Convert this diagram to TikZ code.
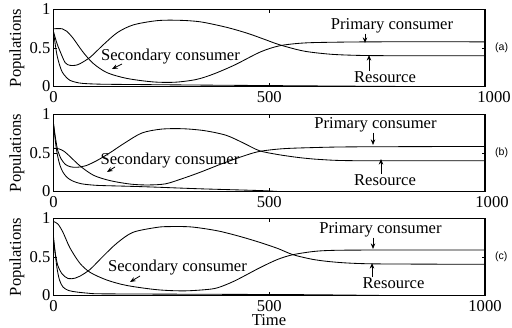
\documentclass[tikz,border=0pt]{standalone}
\usepackage{fontspec}
\setmainfont{Liberation Serif}
\newfontfamily\tagfont{Liberation Sans}
\usepackage{tikz}
\usetikzlibrary{arrows.meta, positioning}

\tikzset{
    % Panel frames and ticks
    frame line/.style={line width=0.8pt},
    tick line/.style={line width=0.6pt},
    % Population curves
    pop curve/.style={line width=0.6pt, smooth, tension=0.5},
    % Texts
    tick label/.style={font=\fontsize{11.8}{14}\selectfont, inner sep=2pt},
    curve label/.style={font=\fontsize{11.8}{14}\selectfont, inner sep=0pt},
    panel tag/.style={font=\tagfont\fontsize{7.5}{9}\selectfont, anchor=west, inner sep=0pt},
    % Label arrows
    label arrow/.style={-{Stealth[length=4pt, width=3.2pt]}, line width=0.6pt}
}

\begin{document}
\begin{tikzpicture}[x=0.025cm, y=0.025cm]

    \useasboundingbox (0,0) rectangle (512,328);

    % ======== FRAMES, TICKS, AXIS LABELS ========
    \foreach \yb/\tag/\dx in {241.5/a/9, 136.5/b/7, 32.5/c/0} {
        \node[tick label, rotate=90] (ylab-\tag) at (17, \yb+38.5) {Populations};
        \begin{scope}[shift={(53.5,\yb)}, xscale=0.4315, yscale=77]
            \draw[frame line] (0,0) rectangle (1000,1);
            \draw[tick line] (500,0) -- (500,0.04) (500,1) -- (500,0.96)
                (0,0.5) -- (7,0.5) (1000,0.5) -- (993,0.5);
            \node[tick label, anchor=east] (y0-\tag) at (0,0) {0};
            \node[tick label, anchor=east] (y5-\tag) at (0,0.5) {0.5};
            \node[tick label, anchor=east] (y1-\tag) at (0,1) {1};
            \node[tick label, anchor=north, yshift=-1pt] (x0-\tag) at (0,0) {0};
            \node[tick label, anchor=north, yshift=-1pt] (x5-\tag) at (500,0) {500};
            \node[tick label, anchor=north, yshift=-1pt, xshift=\dx*0.025cm] (x10-\tag) at (1000,0) {1000};
            \node[panel tag, xshift=7pt] (tag-\tag) at (1000,0.5) {(\tag)};
        \end{scope}
    }
    \node[curve label, anchor=base] (time) at (269,2) {Time};

    % ======== PANEL (a) ========
    \begin{scope}[shift={(53.5,241.5)}, xscale=0.4315, yscale=77]
        % Primary consumer
        \draw[pop curve] plot coordinates {(0,0.75) (20,0.75) (30,0.72) (45,0.63) (68,0.45) (92,0.30) (124,0.18) (170,0.105) (230,0.06) (280,0.055) (330,0.09) (370,0.16) (420,0.28) (480,0.45) (525,0.53) (580,0.565) (650,0.575) (750,0.58) (1000,0.58)};
        % Resource
        \draw[pop curve] plot coordinates {(0,0.71) (8,0.56) (15,0.46) (27,0.31) (38,0.275) (50,0.275) (61,0.295) (85,0.38) (115,0.54) (148,0.70) (185,0.80) (240,0.855) (290,0.86) (340,0.84) (400,0.77) (450,0.69) (490,0.61) (525,0.54) (580,0.46) (640,0.42) (700,0.405) (780,0.40) (1000,0.40)};
        % Secondary consumer
        \draw[pop curve] plot coordinates {(0,0.71) (4,0.55) (8,0.41) (14,0.28) (20,0.19) (28,0.13) (38,0.08) (52,0.055) (68,0.04) (110,0.03) (200,0.025) (350,0.018) (500,0.012) (650,0.006) (820,0)};
    \end{scope}

    \node[curve label] (pc-a) at (392,302) {Primary consumer};
    \node[curve label] (res-a) at (385,251) {Resource};
    \node[curve label] (sc-a) at (170.5,271) {Secondary consumer};
    \coordinate (pc-a-tip) at (365,285);
    \coordinate (res-a-tip) at (369,273);
    \coordinate (sc-a-from) at (122,264);
    \coordinate (sc-a-tip) at (112,259);
    \draw[label arrow] (pc-a.south -| pc-a-tip) -- (pc-a-tip);
    \draw[label arrow] (res-a.north -| res-a-tip) -- (res-a-tip);
    \draw[label arrow] (sc-a-from) -- (sc-a-tip);

    % ======== PANEL (b) ========
    \begin{scope}[shift={(53.5,136.5)}, xscale=0.4315, yscale=77]
        % Primary consumer
        \draw[pop curve] plot coordinates {(0,0.56) (12,0.555) (25,0.52) (39,0.45) (62,0.33) (93,0.21) (132,0.14) (180,0.095) (220,0.085) (260,0.10) (300,0.17) (340,0.25) (390,0.36) (440,0.46) (477,0.52) (530,0.555) (600,0.57) (700,0.58) (1000,0.585)};
        % Resource
        \draw[pop curve] plot coordinates {(0,0.88) (5,0.68) (10,0.53) (18,0.42) (28,0.35) (40,0.32) (55,0.315) (75,0.335) (100,0.40) (130,0.50) (165,0.63) (205,0.76) (250,0.81) (300,0.815) (350,0.79) (400,0.73) (440,0.63) (477,0.53) (520,0.48) (570,0.44) (620,0.415) (700,0.40) (1000,0.40)};
        % Secondary consumer
        \draw[pop curve] plot coordinates {(0,0.88) (3,0.72) (6,0.58) (10,0.45) (15,0.34) (22,0.25) (32,0.18) (45,0.135) (65,0.10) (100,0.08) (160,0.07) (220,0.06) (340,0.035) (480,0.012) (520,0)};
    \end{scope}

    \node[curve label] (pc-b) at (375.5,203) {Primary consumer};
    \node[curve label] (res-b) at (385,148) {Resource};
    \node[curve label] (sc-b) at (170,167) {Secondary consumer};
    \coordinate (pc-b-tip) at (373,183);
    \coordinate (res-b-tip) at (381,169);
    \coordinate (sc-b-from) at (115,161);
    \coordinate (sc-b-tip) at (107,156);
    \draw[label arrow] (pc-b.south -| pc-b-tip) -- (pc-b-tip);
    \draw[label arrow] (res-b.north -| res-b-tip) -- (res-b-tip);
    \draw[label arrow] (sc-b-from) -- (sc-b-tip);

    % ======== PANEL (c) ========
    \begin{scope}[shift={(53.5,32.5)}, xscale=0.4315, yscale=77]
        % Primary consumer
        \draw[pop curve] plot coordinates {(0,0.96) (10,0.93) (22,0.82) (38,0.62) (61,0.42) (85,0.30) (124,0.2) (170,0.13) (240,0.075) (300,0.06) (350,0.075) (380,0.10) (420,0.19) (478,0.36) (520,0.47) (555,0.53) (600,0.57) (640,0.585) (720,0.59) (1000,0.59)};
        % Resource
        \draw[pop curve] plot coordinates {(0,0.72) (4,0.55) (10,0.39) (20,0.28) (34,0.22) (50,0.225) (61,0.25) (85,0.34) (115,0.51) (147,0.68) (184,0.82) (240,0.885) (270,0.895) (320,0.89) (380,0.84) (430,0.77) (478,0.69) (520,0.61) (555,0.53) (600,0.47) (640,0.44) (688,0.42) (760,0.41) (1000,0.405)};
        % Secondary consumer
        \draw[pop curve] plot coordinates {(0,0.76) (3,0.6) (8,0.36) (14,0.2) (22,0.11) (35,0.065) (54,0.045) (80,0.03) (107,0.022) (250,0.018) (450,0.014) (600,0.01) (770,0)};
    \end{scope}

    \node[curve label] (pc-c) at (380.5,98) {Primary consumer};
    \node[curve label] (res-c) at (393.5,45) {Resource};
    \node[curve label] (sc-c) at (177.5,60) {Secondary consumer};
    \coordinate (pc-c-tip) at (373,79);
    \coordinate (res-c-tip) at (372,65);
    \coordinate (sc-c-from) at (140,52);
    \coordinate (sc-c-tip) at (130,46);
    \draw[label arrow] (pc-c.south -| pc-c-tip) -- (pc-c-tip);
    \draw[label arrow] (res-c.north -| res-c-tip) -- (res-c-tip);
    \draw[label arrow] (sc-c-from) -- (sc-c-tip);

\end{tikzpicture}
\end{document}
